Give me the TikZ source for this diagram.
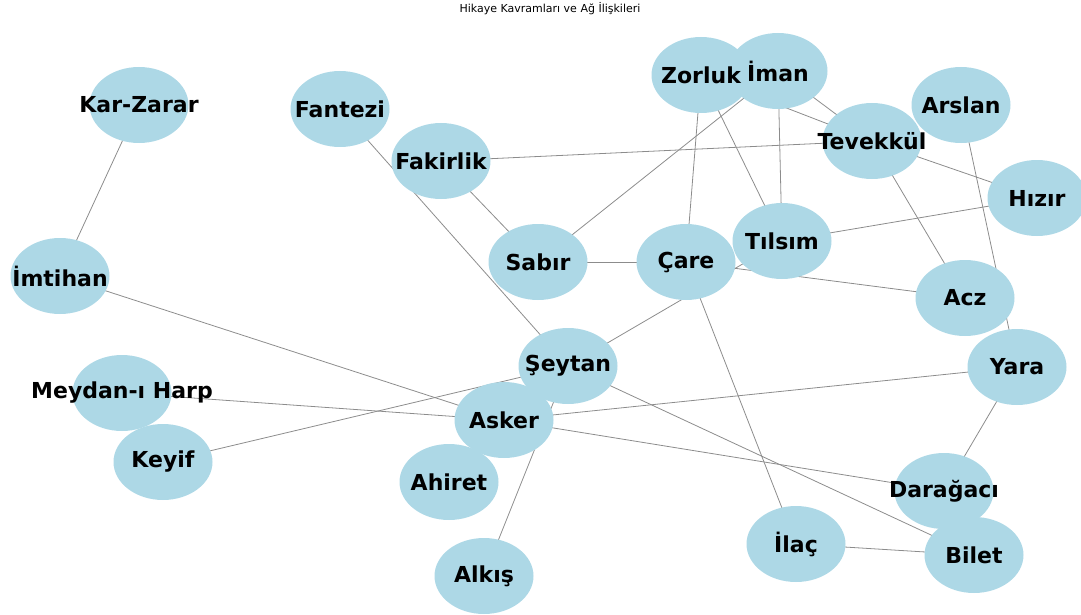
\documentclass[tikz,border=0pt]{standalone}
\usepackage{fontspec}
\setmainfont{DejaVu Sans}
\definecolor{nodeblue}{HTML}{ADD8E6}
\pgfdeclarelayer{edges}
\pgfdeclarelayer{discs}
\pgfsetlayers{edges,discs,main}
\begin{document}
\begin{tikzpicture}[x=1pt,y=-1pt, line join=round, line cap=round,
    lbl/.style={font=\fontsize{22}{22}\selectfont\bfseries, inner sep=0pt},
    link/.style={draw=gray!90, line width=0.8pt}]
        \def\rx{49.5pt} \def\ry{38pt}
        \useasboundingbox (0,0) rectangle (1081,615);
        \node[font=\fontsize{11}{11}\selectfont] (title) at (550,9) {Hikaye Kavramları ve Ağ İlişkileri};
        % concepts
        \foreach \n/\x/\y/\t in {kar/139/105/Kar-Zarar, imt/60/276/İmtihan, fan/340/109/Fantezi,
            fak/441/161/Fakirlik, sab/538/262/Sabır, care/686/262/Çare, zor/701/75/Zorluk,
            iman/778/71/İman, tev/872/141/Tevekkül, ars/961/105/Arslan, hiz/1037/198/Hızır,
            tils/782/241/Tılsım, acz/965/298/Acz, yara/1017/367/Yara, sey/568/366/Şeytan,
            ask/504/420/Asker, mey/122/393/Meydan-ı Harp, key/163/462/Keyif, ahi/449/482/Ahiret,
            alk/484/576/Alkış, dar/944/491/Darağacı, ilac/796/544/İlaç, bil/974/555/Bilet}
            \node[lbl] (\n) at (\x,\y) {\t};
        \begin{pgfonlayer}{discs}
        \foreach \n in {kar,imt,fan,fak,sab,care,zor,iman,tev,ars,hiz,tils,acz,yara,sey,ask,mey,key,ahi,alk,dar,ilac,bil}
            \fill[nodeblue] (\n.center) ellipse [x radius=\rx, y radius=\ry];
        \end{pgfonlayer}
        % relations
        \begin{pgfonlayer}{edges}
        \foreach \a/\b in {kar/imt, imt/ask, fan/sey, fak/tev, fak/sab, sab/iman, sab/care,
            zor/care, zor/tils, zor/tev, iman/tils, iman/tev, tev/hiz, tev/acz, ars/yara,
            hiz/tils, care/acz, sey/tils, care/ilac, sey/bil, ask/dar, ask/yara, ask/mey,
            key/sey, sey/alk, yara/dar, ilac/bil}
            \draw[link] (\a.center) -- (\b.center);
        \end{pgfonlayer}
    \end{tikzpicture}
\end{document}
